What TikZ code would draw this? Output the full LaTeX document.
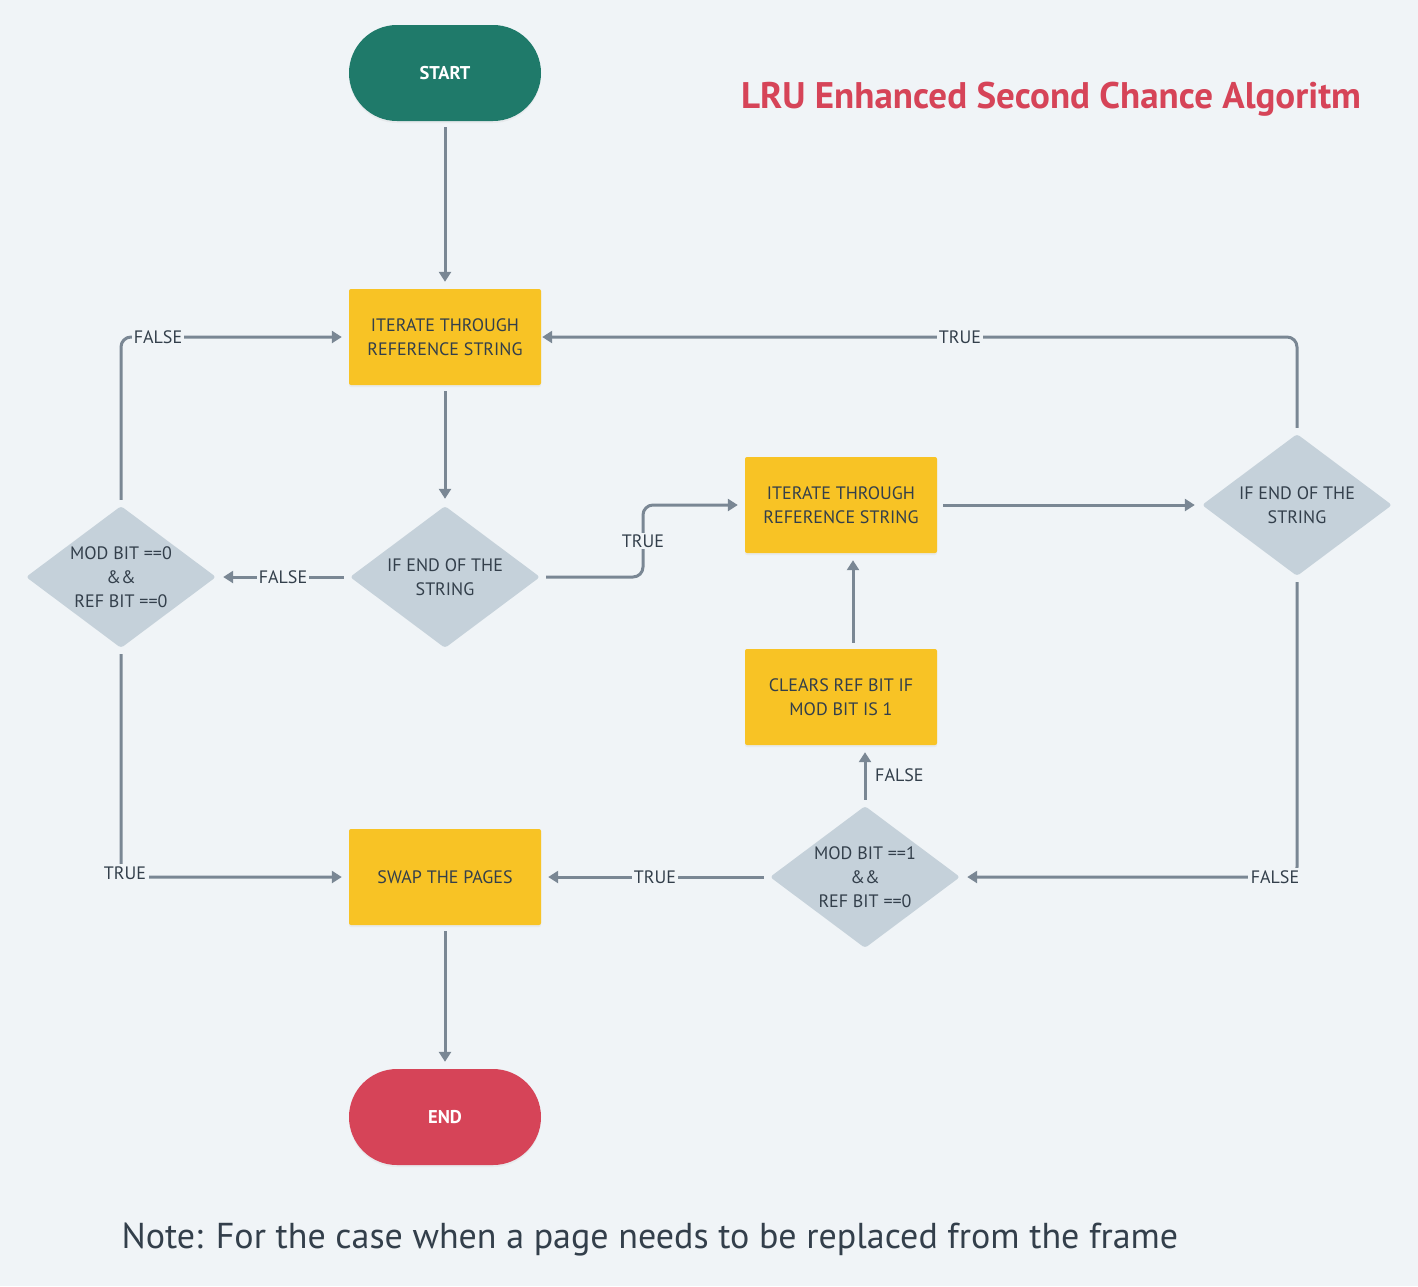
\documentclass[tikz,border=0pt]{standalone}
\usepackage{fontspec}
\setmainfont{PT Sans}
\usetikzlibrary{arrows.meta,shapes.geometric,shadows,calc}
\definecolor{bgc}{HTML}{F0F4F7}
\definecolor{tealc}{HTML}{1F7A6A}
\definecolor{yelc}{HTML}{F8C325}
\definecolor{diac}{HTML}{C5D1DA}
\definecolor{redc}{HTML}{D64458}
\definecolor{linec}{HTML}{7A8794}
\definecolor{txtc}{HTML}{333F4B}
\begin{document}
\begin{tikzpicture}[x=1pt,y=-1pt,
  every node/.style={font=\fontsize{18}{24}\selectfont, text=txtc},
  term/.style={rectangle, rounded corners=48pt, minimum width=192pt, minimum height=96pt,
    text=white, font=\fontsize{18.5}{24}\selectfont\bfseries,
    drop shadow={opacity=0.08, shadow xshift=0pt, shadow yshift=-2pt}},
  procbox/.style={rectangle, rounded corners=2pt, fill=yelc, minimum width=192pt, minimum height=96pt,
    align=center, drop shadow={opacity=0.08, shadow xshift=0pt, shadow yshift=-2pt}},
  decbox/.style={diamond, fill=diac, minimum width=190pt, minimum height=142pt, inner sep=0pt,
    rounded corners=3pt},
  dectext/.style={align=center, inner sep=0pt},
  conn/.style={draw=linec, line width=3pt, rounded corners=10pt,
    -{Triangle[length=10pt,width=12pt]}, shorten >=7pt, shorten <=6pt},
  lbl/.style={fill=bgc, inner sep=2pt}
]
\fill[bgc] (0,0) rectangle (1418,1286);
\useasboundingbox (0,0) rectangle (1418,1286);

% title and note
\node[font=\fontsize{37}{42}\selectfont\bfseries, text=redc] (title) at (1051,99) {LRU Enhanced Second Chance Algoritm};
\node[font=\fontsize{36}{42}\selectfont, anchor=west] (note) at (118,1239) {Note: For the case when a page needs to be replaced from the frame};

% nodes
\node[term, fill=tealc] (start) at (445,73) {START};
\node[procbox] (b1) at (445,337) {ITERATE THROUGH\\REFERENCE STRING};
\node[decbox, label={[dectext]center:IF END OF THE\\STRING}] (d1) at (445,577) {};
\node[decbox, label={[dectext]center:MOD BIT ==0\\\&\&\\REF BIT ==0}] (d2) at (121,577) {};
\node[procbox] (b2) at (841,505) {ITERATE THROUGH\\REFERENCE STRING};
\node[decbox, label={[dectext]center:IF END OF THE\\STRING}] (d3) at (1297,505) {};
\node[procbox] (b3) at (841,697) {CLEARS REF BIT IF\\MOD BIT IS 1};
\node[decbox, label={[dectext]center:MOD BIT ==1\\\&\&\\REF BIT ==0}] (d4) at (865,877) {};
\node[procbox] (b4) at (445,877) {SWAP THE PAGES};
\node[term, fill=redc] (end) at (445,1117) {END};

\coordinate (m5) at (643,541);

% connectors
\draw[conn] (start) -- (b1);
\draw[conn] (b1) -- (d1);
\draw[conn] (d1.west) -- (d2.east);
\draw[conn] (d2.north) |- (b1.west);
\draw[conn] (d1.east) -| (m5) |- (b2.west);
\draw[conn] (b2) -- (d3);
\draw[conn, shorten >=1pt] (d3.north) |- (b1.east);
\draw[conn] (d3.south) |- (d4.east);
\draw[conn] (d4.north) -- (d4.north |- b3.south);
\draw[conn] ([xshift=12pt]b3.north) -- ([xshift=12pt]b2.south);
\draw[conn] (d4.west) -- (b4.east);
\draw[conn] (d2.south) |- (b4.west);
\draw[conn] (b4) -- (end);

% labels
\node[lbl] (l1) at (283,577) {FALSE};
\node[lbl] (l2) at (158,337) {FALSE};
\node[lbl] (l3) at (m5) {TRUE};
\node[lbl] (l4) at (960,337) {TRUE};
\node[lbl, inner sep=3pt] (l5) at (1275,877) {FALSE};
\node[lbl, anchor=west] (l6) at (873,775) {FALSE};
\node[lbl] (l7) at (655,877) {TRUE};
\node[lbl, inner sep=3pt] (l8) at (125,873) {TRUE};
\end{tikzpicture}
\end{document}
